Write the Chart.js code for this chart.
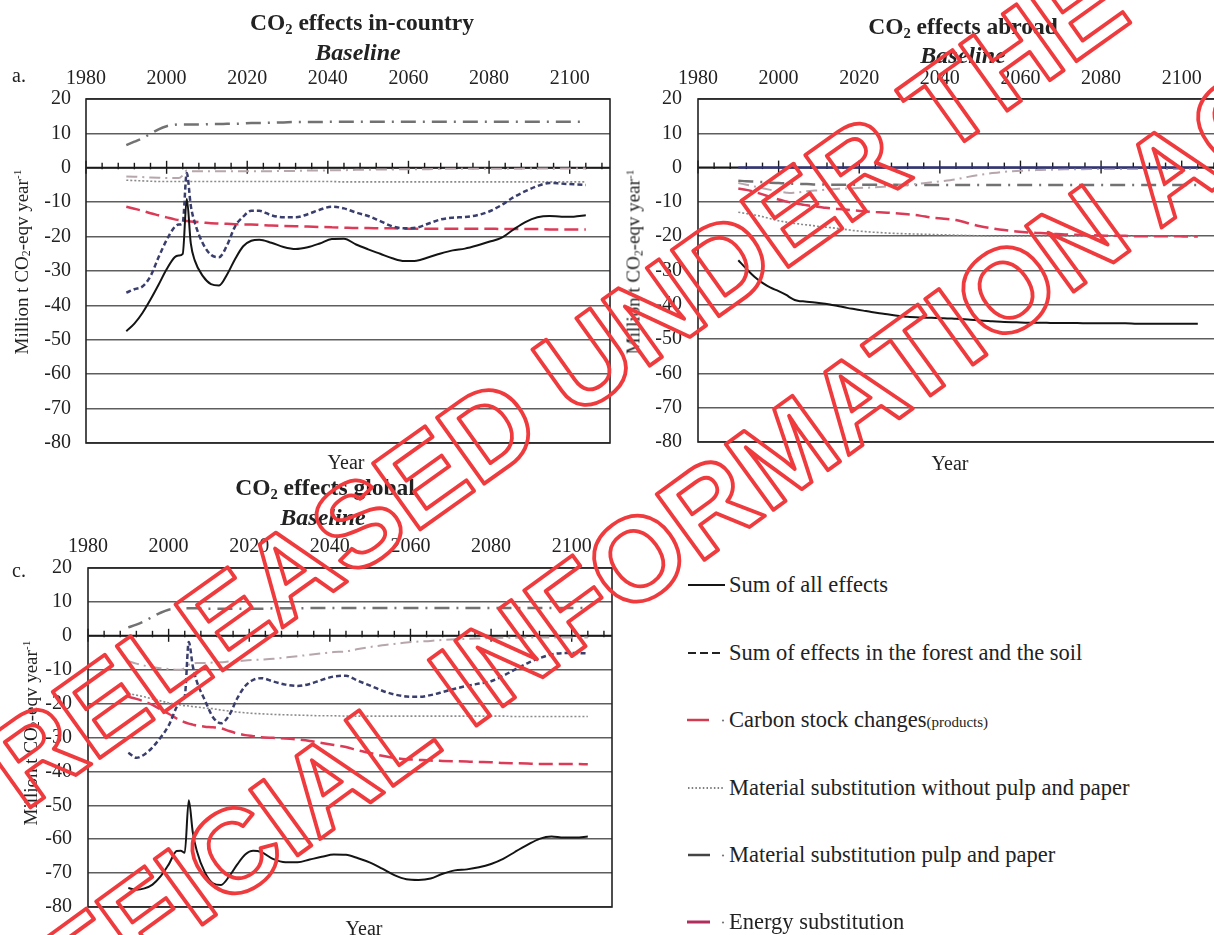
<!DOCTYPE html>
<html lang="en">
<head>
<meta charset="utf-8">
<title>CO2 effects – Baseline</title>
<script src="https://cdn.jsdelivr.net/npm/chart.js@4.4.1/dist/chart.umd.min.js"></script>
<style>
  html, body { margin: 0; padding: 0; background: #fff; }
  body { position: relative; width: 1214px; height: 935px; overflow: hidden;
         font-family: "Liberation Serif", "Times New Roman", serif; color: #222; }
  canvas { position: absolute; }
  .t { position: absolute; white-space: nowrap; line-height: 1; transform: translate(-50%, -50%); }
  .ttl { font-weight: bold; font-size: 23.5px; }
  .scn { font-weight: bold; font-style: italic; font-size: 24px; }
  .lab { font-size: 20px; }
  .yt { font-size: 19px; transform: translate(-50%, -50%) rotate(-90deg); }
  .tag { position: absolute; font-size: 20px; line-height: 1; }
  .leg { position: absolute; left: 686px; height: 24px; display: flex; align-items: center;
         font-size: 22.5px; white-space: nowrap; }
  .leg svg { width: 40px; height: 10px; margin-right: 3px; flex: none; }
  .small { font-size: 15px; }
  sub { font-size: 0.62em; vertical-align: -0.25em; line-height: 0; }
  sup { font-size: 0.6em; vertical-align: 0.55em; line-height: 0; }
  .stamp { position: absolute; left: 0; top: 0; pointer-events: none; }
</style>
</head>
<body>

<canvas id="inCountry" width="640" height="470" style="left:0;top:0"></canvas>
<canvas id="abroad" width="640" height="470" style="left:600px;top:0"></canvas>
<canvas id="global" width="640" height="465" style="left:0;top:470px"></canvas>

<!-- panel a -->
<div class="t ttl" style="left:362px;top:23px">CO<sub>2</sub> effects in-country</div>
<div class="t scn" style="left:358px;top:52px">Baseline</div>
<div class="tag" style="left:12px;top:65px">a.</div>
<div class="t yt" style="left:21px;top:262px">Million t CO<sub>2</sub>-eqv year<sup>-1</sup></div>
<div class="t lab" style="left:346px;top:462px">Year</div>

<!-- panel b -->
<div class="t ttl" style="left:963px;top:27px">CO<sub>2</sub> effects abroad</div>
<div class="t scn" style="left:963px;top:55px">Baseline</div>
<div class="t yt" style="left:633px;top:262px">Million t CO<sub>2</sub>-eqv year<sup>-1</sup></div>
<div class="t lab" style="left:950px;top:463px">Year</div>

<!-- panel c -->
<div class="t ttl" style="left:325px;top:488px">CO<sub>2</sub> effects global</div>
<div class="t scn" style="left:323px;top:517px">Baseline</div>
<div class="tag" style="left:12px;top:560px">c.</div>
<div class="t yt" style="left:30px;top:733px">Million t CO<sub>2</sub>-eqv year<sup>-1</sup></div>
<div class="t lab" style="left:364px;top:928px">Year</div>

<!-- shared legend -->
<div class="leg" style="top:573px">
  <svg viewBox="0 0 40 10"><line x1="2" y1="5" x2="39" y2="5" stroke="#151515" stroke-width="2"/></svg>
  <span>Sum of all effects</span>
</div>
<div class="leg" style="top:641px">
  <svg viewBox="0 0 40 10"><line x1="2" y1="5" x2="36" y2="5" stroke="#222" stroke-width="2" stroke-dasharray="8,4"/></svg>
  <span>Sum of effects in the forest and the soil</span>
</div>
<div class="leg" style="top:708px">
  <svg viewBox="0 0 40 10"><line x1="1" y1="5" x2="23" y2="5" stroke="#d23c50" stroke-width="2.5"/><circle cx="37" cy="5.5" r="1.1" fill="#777"/></svg>
  <span>Carbon stock changes<span class="small">(products)</span></span>
</div>
<div class="leg" style="top:776px">
  <svg viewBox="0 0 40 10"><line x1="2" y1="5" x2="37" y2="5" stroke="#555" stroke-width="1.5" stroke-dasharray="1.5,2.2"/></svg>
  <span>Material substitution without pulp and paper</span>
</div>
<div class="leg" style="top:843px">
  <svg viewBox="0 0 40 10"><line x1="2" y1="5" x2="24" y2="5" stroke="#444" stroke-width="2.5"/><circle cx="37" cy="5.5" r="1.1" fill="#777"/></svg>
  <span>Material substitution pulp and paper</span>
</div>
<div class="leg" style="top:910px">
  <svg viewBox="0 0 40 10"><line x1="1" y1="5" x2="24" y2="5" stroke="#b02e5c" stroke-width="3"/><circle cx="37" cy="5.5" r="1.1" fill="#777"/></svg>
  <span>Energy substitution</span>
</div>

<!-- release stamp -->
<svg class="stamp" width="1214" height="935" viewBox="0 0 1214 935">
  <g font-family="Liberation Sans, Arial, sans-serif" font-weight="bold" font-size="118"
     fill="none" stroke="#ef3b3d" stroke-width="3.8" stroke-linejoin="round">
    <text transform="translate(24,812) rotate(-35.5)">RELEASED UNDER THE</text>
    <text transform="translate(5,1068) rotate(-36)">OFFICIAL INFORMATION ACT</text>
  </g>
</svg>

<script>
// Sample years shared by every series (dense around the 2005 spike)
const years = [1990, 1992, 1994, 1996, 1998, 2000, 2002, 2003, 2004, 2005, 2006, 2007,
  2009, 2011, 2013, 2015, 2017, 2019, 2021, 2023, 2026, 2029, 2032, 2035, 2038, 2041,
  2044, 2047, 2050, 2053, 2056, 2059, 2062, 2065, 2068, 2071, 2074, 2077, 2080, 2083,
  2086, 2089, 2092, 2095, 2098, 2101, 2104];

// a. In-country (Mt CO2-eqv per year)
const inCountrySum = [-47.5, -45.3, -42.2, -38.3, -34, -29.5, -26, -25.5, -25, -9, -22, -27,
  -31.5, -33.8, -34.2, -31, -26.5, -22.8, -21.2, -20.9, -21.8, -23, -23.6, -23.1, -22, -20.7,
  -20.6, -22.3, -23.7, -25, -26.3, -27.1, -27, -26, -24.9, -24, -23.5, -22.6, -21.5, -20.4,
  -18, -15.8, -14.4, -14, -14.2, -14.2, -13.8];
const inCountryForestSoil = [-36.3, -35.3, -34.5, -31.5, -26, -21, -17.2, -16.5, -16, -1.5, -11, -16,
  -22, -25.3, -26, -22.5, -17, -14.2, -12.5, -12.5, -13.8, -14.4, -14.4, -13.5, -12.2, -11.3,
  -11.8, -13, -14, -15.5, -17, -17.6, -17.4, -16.2, -15, -14.5, -14.3, -13.8, -12.7, -10.9,
  -8.6, -6.8, -5.3, -4.4, -4.6, -4.8, -5];
const inCountryCarbonStock = [-2.5, -2.6, -2.7, -2.8, -2.9, -3, -3, -3, -2.2, -0.8, -1, -1,
  -1, -1, -1, -1, -1, -1, -1, -1, -1, -0.9, -0.9, -0.8, -0.8, -0.7,
  -0.7, -0.6, -0.6, -0.5, -0.5, -0.4, -0.4, -0.4, -0.3, -0.3, -0.3, -0.3, -0.3, -0.3,
  -0.3, -0.2, -0.2, -0.2, -0.2, -0.2, -0.2];
const inCountryMaterial = [-3.6, -3.7, -3.8, -3.9, -4, -4, -4, -4, -4, -4, -4, -4,
  -4, -4, -4, -4, -4, -4, -4, -4, -4, -4, -4, -4, -4, -4,
  -4.1, -4.1, -4.1, -4.1, -4.1, -4.1, -4.1, -4.1, -4.1, -4.1, -4.1, -4.1, -4.1, -4.1,
  -4.1, -4.1, -4.1, -4.1, -4.1, -4.1, -4.1];
const inCountryPulpPaper = [6.6, 7.6, 8.6, 9.9, 11.2, 12.1, 12.5, 12.6, 12.6, 12.6, 12.6, 12.6,
  12.6, 12.7, 12.7, 12.8, 12.8, 12.9, 13, 13, 13.1, 13.2, 13.3, 13.3, 13.3, 13.4,
  13.4, 13.4, 13.4, 13.4, 13.4, 13.4, 13.4, 13.4, 13.4, 13.4, 13.4, 13.4, 13.4, 13.4,
  13.4, 13.4, 13.4, 13.4, 13.4, 13.4, 13.4];
const inCountryEnergy = [-11.3, -11.9, -12.5, -13.2, -13.8, -14.4, -15, -15.2, -15.4, -15.5, -15.6, -15.7,
  -15.9, -16.1, -16.2, -16.3, -16.4, -16.5, -16.5, -16.6, -16.8, -16.9, -17, -17.1, -17.2, -17.3,
  -17.4, -17.5, -17.5, -17.6, -17.6, -17.7, -17.7, -17.7, -17.7, -17.7, -17.7, -17.7, -17.7, -17.8,
  -17.8, -17.8, -17.8, -17.9, -17.9, -17.9, -17.9];

// b. Abroad
const abroadSum = [-27, -29.5, -31.8, -33.6, -35, -36, -37.2, -38, -38.6, -38.9, -39, -39.1,
  -39.3, -39.6, -40, -40.4, -40.9, -41.3, -41.7, -42.1, -42.6, -43.1, -43.5, -43.7, -43.8, -43.9,
  -44.1, -44.3, -44.6, -44.8, -45, -45.1, -45.2, -45.2, -45.3, -45.3, -45.3, -45.4, -45.4, -45.4,
  -45.4, -45.5, -45.5, -45.5, -45.5, -45.5, -45.5];
const abroadForestSoil = [0, 0, 0, 0, 0, 0, 0, 0, 0, 0, 0, 0,
  0, 0, 0, 0, 0, 0, 0, 0, 0, 0, 0, 0, 0, 0,
  0, 0, 0, 0, 0, 0, 0, 0, 0, 0, 0, 0, 0, 0,
  0, 0, 0, 0, 0, 0, 0];
const abroadCarbonStock = [-4.5, -5, -5.5, -6, -6.5, -7, -7.3, -7.4, -7.3, -7.2, -7, -6.9,
  -6.7, -6.5, -6.3, -6.2, -6.1, -6, -5.9, -5.8, -5.6, -5.3, -5, -4.7, -4.3, -3.9,
  -3.4, -2.7, -2.1, -1.6, -1.2, -1, -0.8, -0.7, -0.6, -0.5, -0.5, -0.4, -0.4, -0.4,
  -0.4, -0.4, -0.4, -0.4, -0.4, -0.4, -0.4];
const abroadMaterial = [-13, -13.4, -13.8, -14.3, -14.9, -15.5, -15.9, -16.1, -16.3, -16.4, -16.6, -16.7,
  -17, -17.3, -17.5, -17.8, -18.1, -18.4, -18.6, -18.8, -19, -19.2, -19.3, -19.4, -19.5, -19.6,
  -19.7, -19.8, -19.9, -20, -20, -20, -20, -20, -20, -20, -20, -20, -20, -20,
  -20, -20, -20, -20, -20, -20, -20];
const abroadPulpPaper = [-3.8, -4, -4.1, -4.2, -4.4, -4.5, -4.6, -4.7, -4.7, -4.7, -4.8, -4.8,
  -4.9, -4.9, -5, -5, -5, -5, -5, -5, -5, -5, -5.1, -5.1, -5.1, -5.1,
  -5.1, -5.1, -5.1, -5.1, -5.1, -5.1, -5.1, -5.1, -5.1, -5.1, -5.1, -5.1, -5.1, -5.1,
  -5.1, -5.1, -5.1, -5.1, -5.1, -5.1, -5.1];
const abroadEnergy = [-6.1, -6.5, -7.1, -7.8, -8.6, -9.3, -9.9, -10.2, -10.4, -10.6, -10.8, -11,
  -11.3, -11.6, -11.9, -12.1, -12.3, -12.5, -12.7, -12.9, -13.1, -13.3, -13.6, -14, -14.6, -14.9,
  -15.3, -16.2, -17.1, -17.7, -18.2, -18.6, -18.9, -19.1, -19.3, -19.5, -19.6, -19.7, -19.8, -19.9,
  -19.9, -20, -20, -20, -20, -20.1, -20.1];

// c. Global
const globalSum = [-74.4, -74.9, -74.5, -73.4, -71, -67.5, -63.5, -63.4, -64, -48.5, -58, -63.5,
  -69.8, -73, -73.5, -71, -67.5, -64.5, -63.4, -63.8, -65.9, -66.8, -66.8, -66, -65.2, -64.5,
  -64.6, -65.6, -66.9, -68.7, -70.6, -71.8, -72, -71.6, -70.2, -69.2, -68.9, -68.3, -67.3, -65.8,
  -63.7, -61.7, -59.9, -59.2, -59.5, -59.5, -59.2];
const globalForestSoil = [-34.5, -36, -35, -32.9, -30, -26.5, -21, -19, -17.9, -1.8, -9, -13.5,
  -19, -24, -25.8, -23.5, -18.5, -14.8, -13, -12.5, -13.5, -14.4, -14.8, -14.2, -13, -12,
  -11.8, -13.3, -14.7, -16.2, -17.3, -17.9, -18, -17.5, -16.6, -15.6, -14.8, -14.1, -13.4, -11.8,
  -9.9, -8.1, -6.6, -5.5, -5.1, -5.1, -5.2];
const globalCarbonStock = [-7.5, -8.2, -8.8, -9.2, -9.6, -9.8, -10, -10, -9.5, -8.5, -8.2, -8,
  -8, -7.9, -7.8, -7.6, -7.5, -7.3, -7.1, -7, -6.8, -6.4, -6, -5.6, -5.2, -4.8,
  -4.6, -3.9, -3.3, -2.8, -2.4, -2, -1.7, -1.5, -1.2, -1, -0.9, -0.8, -0.7, -0.6,
  -0.6, -0.5, -0.5, -0.5, -0.5, -0.5, -0.5];
const globalMaterial = [-17, -17.5, -18, -18.6, -19.2, -19.8, -20.2, -20.4, -20.6, -20.7, -20.9, -21,
  -21.3, -21.5, -21.9, -22.2, -22.5, -22.7, -22.9, -23, -23.2, -23.3, -23.4, -23.5, -23.6, -23.6,
  -23.7, -23.7, -23.7, -23.7, -23.7, -23.7, -23.7, -23.7, -23.7, -23.7, -23.7, -23.7, -23.7, -23.7,
  -23.8, -23.8, -23.8, -23.8, -23.8, -23.8, -23.8];
const globalPulpPaper = [2.5, 3.3, 4.3, 5.6, 6.8, 7.7, 8, 8.1, 8.1, 8.1, 8.1, 8.1,
  8, 8, 8, 8, 8, 8, 8, 8, 8.1, 8.1, 8.1, 8.2, 8.2, 8.2,
  8.2, 8.2, 8.2, 8.2, 8.2, 8.2, 8.2, 8.2, 8.2, 8.2, 8.2, 8.2, 8.2, 8.2,
  8.2, 8.2, 8.2, 8.2, 8.2, 8.2, 8.2];
const globalEnergy = [-18, -18.6, -19.4, -20.4, -21.7, -23, -24.4, -25, -25.5, -25.9, -26.2, -26.5,
  -26.8, -27, -27.3, -28.1, -28.8, -29.3, -29.6, -29.9, -30.1, -30.3, -30.6, -31, -31.6, -32.2,
  -32.8, -33.8, -34.6, -35.4, -36, -36.4, -36.6, -36.8, -36.9, -37, -37.1, -37.2, -37.3, -37.5,
  -37.6, -37.7, -37.8, -37.8, -37.8, -37.8, -37.9];

// Axis ranges and tick labels
const yearAxis = { min: 1980, max: 2110, labelStep: 20, minorStep: 4 };
const valueAxis = { min: -80, max: 20, step: 10 };

// Line styles per effect
const lineStyles = {
  sum:      { color: '#141414', width: 2,   dash: [] },
  forest:   { color: '#3a3e6c', width: 2.5, dash: [5, 3] },
  forestB:  { color: '#2e3296', width: 2,   dash: [] },
  carbon:   { color: '#b7a6ab', width: 2,   dash: [11, 5, 2, 5] },
  material: { color: '#8a8a8a', width: 1.6, dash: [2, 2] },
  pulp:     { color: '#727272', width: 2.5, dash: [15, 7, 2, 7] },
  energy:   { color: '#dc3b58', width: 2.5, dash: [14, 6] }
};

Chart.defaults.font.family = '"Liberation Serif", "Times New Roman", serif';
Chart.defaults.font.size = 20;
Chart.defaults.color = '#222';

// Plot frame, plus the year axis that runs along the zero line with its cross ticks
const zeroAxis = {
  id: 'zeroAxis',
  beforeDatasetsDraw(chart) {
    const { ctx, chartArea: a, scales: { x, y } } = chart;
    const y0 = y.getPixelForValue(0);
    ctx.save();
    ctx.strokeStyle = '#1a1a1a';
    ctx.lineWidth = 2;
    ctx.beginPath();
    ctx.moveTo(a.left, y0);
    ctx.lineTo(a.right, y0);
    ctx.stroke();
    ctx.lineWidth = 1.4;
    for (let yr = yearAxis.min; yr <= x.max; yr += yearAxis.minorStep) {
      const px = x.getPixelForValue(yr);
      const major = (yr - yearAxis.min) % yearAxis.labelStep === 0;
      ctx.beginPath();
      ctx.moveTo(px, y0 - (major ? 7 : 5));
      ctx.lineTo(px, y0 + (major ? 6 : 1.5));
      ctx.stroke();
    }
    ctx.strokeStyle = '#222';
    ctx.lineWidth = 1.6;
    ctx.strokeRect(a.left, a.top, a.right - a.left, a.bottom - a.top);
    ctx.restore();
  }
};

function panel(id, frame, series) {
  const cv = document.getElementById(id);
  return new Chart(cv, {
    type: 'line',
    data: {
      datasets: series.map(s => ({
        label: s.label,
        data: years.map((yr, i) => ({ x: yr, y: s.values[i] })),
        borderColor: s.style.color,
        borderWidth: s.style.width,
        borderDash: s.style.dash,
        pointRadius: 0,
        fill: false,
        cubicInterpolationMode: 'monotone'
      }))
    },
    options: {
      responsive: false,
      animation: false,
      events: [],
      layout: { padding: { left: 0, top: 0, right: cv.width - frame.right, bottom: cv.height - frame.bottom } },
      plugins: { legend: { display: false }, tooltip: { enabled: false } },
      scales: {
        x: {
          type: 'linear', position: 'top', min: yearAxis.min, max: yearAxis.max,
          afterFit: s => { s.height = frame.top; },
          grid: { display: false, drawTicks: false },
          border: { display: false },
          ticks: { stepSize: yearAxis.labelStep, includeBounds: false, autoSkip: false, maxRotation: 0,
                   padding: frame.labelPad, color: '#222', callback: v => String(v) }
        },
        y: {
          type: 'linear', min: valueAxis.min, max: valueAxis.max,
          afterFit: s => { s.width = frame.left; },
          grid: { color: '#5e5e5e', lineWidth: 1.5, drawTicks: false },
          border: { display: false },
          ticks: { stepSize: valueAxis.step, padding: frame.valuePad, color: '#222', callback: v => String(v) }
        }
      }
    },
    plugins: [zeroAxis]
  });
}

panel('inCountry', { left: 86, top: 99, right: 610, bottom: 452, labelPad: 8, valuePad: 15 }, [
  { label: 'Sum of all effects', values: inCountrySum, style: lineStyles.sum },
  { label: 'Sum of effects in the forest and the soil', values: inCountryForestSoil, style: lineStyles.forest },
  { label: 'Energy substitution', values: inCountryEnergy, style: lineStyles.energy },
  { label: 'Carbon stock changes (products)', values: inCountryCarbonStock, style: lineStyles.carbon },
  { label: 'Material substitution without pulp and paper', values: inCountryMaterial, style: lineStyles.material },
  { label: 'Material substitution pulp and paper', values: inCountryPulpPaper, style: lineStyles.pulp }
]);

panel('abroad', { left: 98, top: 99, right: 622, bottom: 451, labelPad: 8, valuePad: 16 }, [
  { label: 'Sum of all effects', values: abroadSum, style: lineStyles.sum },
  { label: 'Sum of effects in the forest and the soil', values: abroadForestSoil, style: lineStyles.forestB },
  { label: 'Energy substitution', values: abroadEnergy, style: lineStyles.energy },
  { label: 'Carbon stock changes (products)', values: abroadCarbonStock, style: lineStyles.carbon },
  { label: 'Material substitution without pulp and paper', values: abroadMaterial, style: lineStyles.material },
  { label: 'Material substitution pulp and paper', values: abroadPulpPaper, style: lineStyles.pulp }
]);

panel('global', { left: 88, top: 98, right: 612, bottom: 444, labelPad: 9, valuePad: 16 }, [
  { label: 'Sum of all effects', values: globalSum, style: lineStyles.sum },
  { label: 'Sum of effects in the forest and the soil', values: globalForestSoil, style: lineStyles.forest },
  { label: 'Energy substitution', values: globalEnergy, style: lineStyles.energy },
  { label: 'Carbon stock changes (products)', values: globalCarbonStock, style: lineStyles.carbon },
  { label: 'Material substitution without pulp and paper', values: globalMaterial, style: lineStyles.material },
  { label: 'Material substitution pulp and paper', values: globalPulpPaper, style: lineStyles.pulp }
]);
</script>
</body>
</html>
